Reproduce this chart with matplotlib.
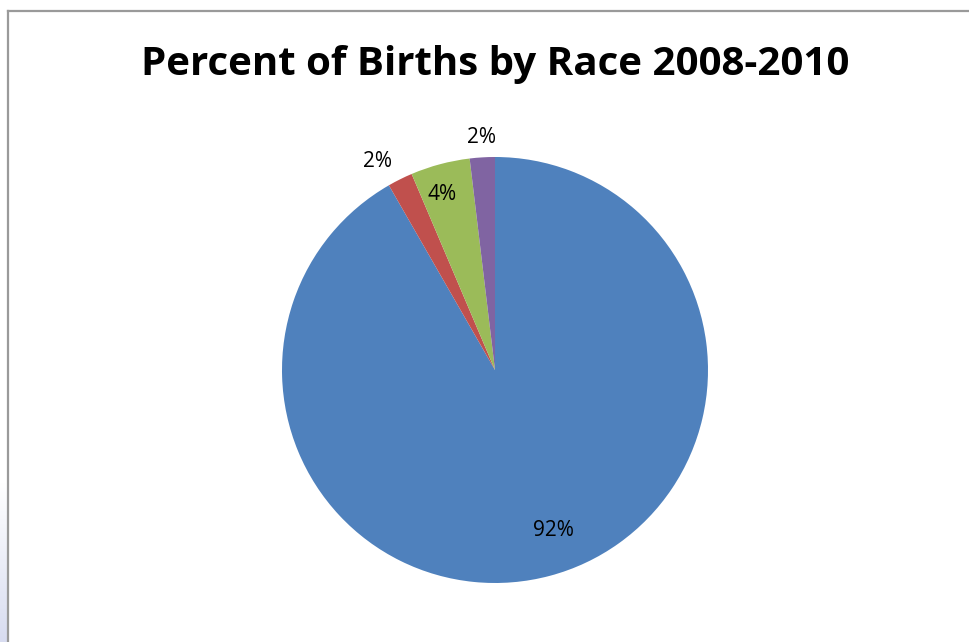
import numpy as np
import matplotlib
matplotlib.use("Agg")
import matplotlib.pyplot as plt
from matplotlib.lines import Line2D

# data (clockwise from 12 o'clock)
races = ["Race A", "Race B", "Race C", "Race D"]
shares = [91.7, 1.9, 4.5, 1.9]
pct_labels = ["92%", "2%", "4%", "2%"]
colors = ["#4F81BD", "#C0504D", "#9BBB59", "#8064A2"]
label_dist = [0.80, 1.125, 0.86, 1.095]
label_shift = [5, 3, 2, 0]  # degrees, nudges like Excel's best fit

fig = plt.figure(figsize=(9.69, 6.42), dpi=100)
fig.patch.set_facecolor("white")

# faint bluish strip at the lower left edge (window behind the chart)
strip = fig.add_axes([0, 0, 8 / 969, 160 / 642])
grad = np.linspace(0, 1, 100).reshape(-1, 1)
strip.imshow(grad, aspect="auto", cmap=matplotlib.colors.LinearSegmentedColormap.from_list(
    "s", ["#d8dcf0", "#ffffff"]), origin="lower")
strip.axis("off")

# chart frame (only top and left edge are visible)
fig.add_artist(Line2D([8 / 969, 1], [1 - 11 / 642, 1 - 11 / 642], color="#9a9a9a", lw=1.6))
fig.add_artist(Line2D([8 / 969, 8 / 969], [0, 1 - 11 / 642], color="#9a9a9a", lw=1.6))

fig.text(495 / 969, 1 - 65 / 642, "Percent of Births by Race 2008-2010",
         ha="center", va="center", fontsize=29, fontweight="bold", family="Open Sans")

ax = fig.add_axes([282 / 969, 59 / 642, 426 / 969, 426 / 642])
wedges, _ = ax.pie(shares, colors=colors, startangle=90, counterclock=False,
                   radius=1, wedgeprops=dict(linewidth=0))
ax.set_xlim(-1, 1)
ax.set_ylim(-1, 1)
ax.axis("off")

for w, lab, d, s in zip(wedges, pct_labels, label_dist, label_shift):
    ang = np.deg2rad((w.theta1 + w.theta2) / 2 + s)
    ax.text(d * np.cos(ang), d * np.sin(ang), lab, ha="center", va="center",
            fontsize=15, family="Open Sans", clip_on=False)

fig.savefig("out.png", dpi=100)
